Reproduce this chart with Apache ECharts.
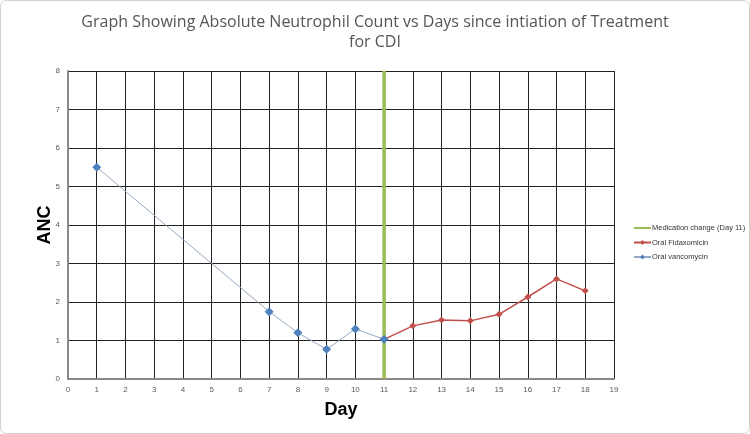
<!DOCTYPE html>
<html>
<head>
<meta charset="utf-8">
<script src="https://cdn.jsdelivr.net/npm/echarts@6/dist/echarts.min.js"></script>
<style>
  html, body { margin: 0; padding: 0; background: #fff; }
  #main { width: 750px; height: 434px; }
</style>
</head>
<body>
<div id="main"></div>
<script>
var myChart = echarts.init(document.getElementById('main'));

// data
var vancoDays = [1, 7, 8, 9, 10, 11];
var vancoAnc = [5.5, 1.75, 1.2, 0.77, 1.3, 1.03];
var fidaxDays = [11, 12, 13, 14, 15, 16, 17, 18];
var fidaxAnc = [1.03, 1.38, 1.53, 1.51, 1.68, 2.13, 2.6, 2.29];
var changeDay = 11;
var ancRange = [0, 8];

function pairs(xs, ys) {
  return xs.map(function (x, i) { return [x, ys[i]]; });
}

var option = {
  animation: false,
  title: {
    text: 'Graph Showing Absolute Neutrophil Count vs Days since intiation of Treatment\nfor CDI',
    left: 370,
    textAlign: 'center',
    top: 7,
    textStyle: {
      fontFamily: 'Open Sans',
      fontSize: 16,
      fontWeight: 'normal',
      color: '#555',
      lineHeight: 20
    }
  },
  graphic: [{
    type: 'rect',
    shape: { x: 0.5, y: 0.5, width: 749, height: 433, r: 6 },
    style: { fill: 'none', stroke: '#d0d0d0', lineWidth: 1 },
    silent: true
  }],
  legend: {
    orient: 'vertical',
    left: 633,
    top: 224,
    padding: 0,
    itemWidth: 17,
    itemHeight: 6,
    itemGap: 6.5,
    textStyle: { fontSize: 7.5, color: '#333', fontFamily: 'Liberation Sans', padding: [0, 0, 0, -4] },
    data: [
      { name: 'Medication change (Day 11)', itemStyle: { opacity: 0 } },
      'Oral Fidaxomicin',
      'Oral vancomycin'
    ]
  },
  grid: { left: 68, right: 136, top: 71, bottom: 55 },
  xAxis: {
    type: 'value',
    min: 0, max: 19, interval: 1,
    name: 'Day',
    nameLocation: 'middle',
    nameGap: 22,
    nameMoveOverlap: false,
    nameTextStyle: { fontSize: 18, fontWeight: 'bold', color: '#000', fontFamily: 'Liberation Sans' },
    axisLine: { lineStyle: { color: '#888', width: 2 } },
    axisTick: { show: false },
    axisLabel: { fontSize: 8, color: '#595959', margin: 7 },
    splitLine: { show: true, lineStyle: { color: '#222', width: 1 } }
  },
  yAxis: {
    type: 'value',
    min: ancRange[0], max: ancRange[1], interval: 1,
    name: 'ANC',
    nameLocation: 'middle',
    nameGap: 14,
    nameMoveOverlap: false,
    nameTextStyle: { fontSize: 18, fontWeight: 'bold', color: '#000', fontFamily: 'Liberation Sans' },
    axisLine: { show: true, lineStyle: { color: '#888', width: 2 } },
    axisTick: { show: false },
    axisLabel: { fontSize: 8, color: '#595959', margin: 8 },
    splitLine: { show: true, lineStyle: { color: '#222', width: 1 } }
  },
  series: [
    {
      name: 'Medication change (Day 11)',
      type: 'line',
      data: [[changeDay, ancRange[0]], [changeDay, ancRange[1]]],
      symbol: 'none',
      itemStyle: { color: '#9bbb59' },
      lineStyle: { color: '#9bbb59', width: 3.5 },
      z: 3
    },
    {
      name: 'Oral Fidaxomicin',
      type: 'line',
      data: pairs(fidaxDays, fidaxAnc),
      symbol: 'diamond',
      symbolSize: 7,
      itemStyle: { color: '#c0504d' },
      lineStyle: { color: '#c0504d', width: 1.5 },
      z: 4
    },
    {
      name: 'Oral vancomycin',
      type: 'line',
      data: pairs(vancoDays, vancoAnc),
      symbol: 'diamond',
      symbolSize: 9,
      itemStyle: { color: '#4f81bd' },
      lineStyle: { color: '#95a9c4', width: 1 },
      z: 5
    }
  ]
};

myChart.setOption(option);
</script>
</body>
</html>
